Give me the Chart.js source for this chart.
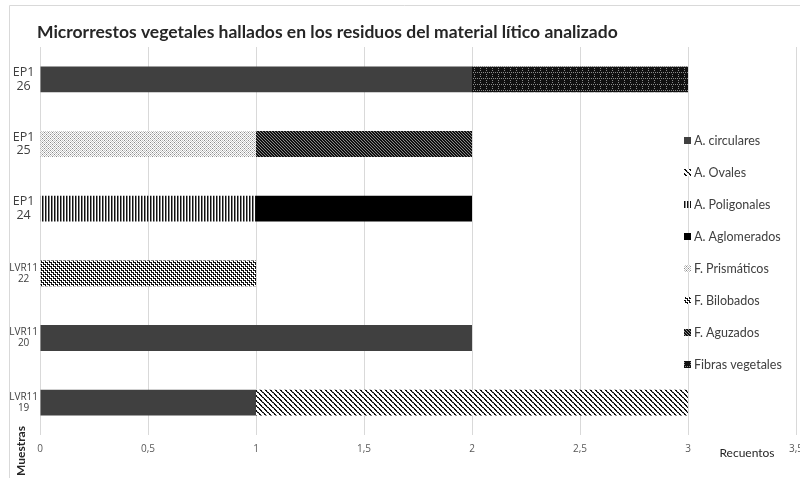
<!DOCTYPE html>
<html>
<head>
<meta charset="utf-8">
<script src="https://cdn.jsdelivr.net/npm/chart.js@4"></script>
<style>
  html, body { margin: 0; padding: 0; background: #fff; }
  #wrap { width: 800px; height: 478px; position: relative; }
</style>
</head>
<body>
<div id="wrap"><canvas id="chart"></canvas></div>
<script>
// Samples, top to bottom
const samples = [["EP1", "26"], ["EP1", "25"], ["EP1", "24"], ["LVR11", "22"], ["LVR11", "20"], ["LVR11", "19"]];

// Counts per type
const aCirculares   = [2, 0, 0, 0, 2, 1];
const aOvales       = [0, 0, 0, 0, 0, 2];
const aPoligonales  = [0, 0, 1, 0, 0, 0];
const aAglomerados  = [0, 0, 1, 0, 0, 0];
const fPrismaticos  = [0, 1, 0, 0, 0, 0];
const fBilobados    = [0, 0, 0, 1, 0, 0];
const fAguzados     = [0, 1, 0, 0, 0, 0];
const fibras        = [1, 0, 0, 0, 0, 0];

const seriesNames = ["A. circulares", "A. Ovales", "A. Poligonales", "A. Aglomerados",
                     "F. Prismáticos", "F. Bilobados", "F. Aguzados", "Fibras vegetales"];
const xTickLabels = ["0", "0,5", "1", "1,5", "2", "2,5", "3", "3,5"];

const titleText = "Microrrestos vegetales hallados en los residuos del material lítico analizado";

// small bitmap patterns: 0 white, 1 black, 2 mid gray, 3 light gray
const shade = { "0": "#ffffff", "1": "#111111", "2": "#8a8a8a", "3": "#c4c4c4" };
function bitmapPattern(rows) {
  const c = document.createElement("canvas");
  c.width = rows[0].length;
  c.height = rows.length;
  const g = c.getContext("2d");
  rows.forEach((r, y) => {
    for (let x = 0; x < r.length; x++) {
      g.fillStyle = shade[r[x]];
      g.fillRect(x, y, 1, 1);
    }
  });
  return g.createPattern(c, "repeat");
}

const fills = [
  "#404040",
  bitmapPattern(["11000", "01200", "00110", "00021", "10001"]),
  bitmapPattern(["120"]),
  "#000000",
  bitmapPattern(["2030", "0303", "3020", "0303"]),
  bitmapPattern(["1101", "0100", "0111", "0001"]),
  bitmapPattern(["112", "211", "121"]),
  bitmapPattern(["121212", "111111", "211111", "111111", "211111", "111111"])
];

const values = [aCirculares, aOvales, aPoligonales, aAglomerados, fPrismaticos, fBilobados, fAguzados, fibras];

const datasets = values.map((data, i) => ({
  label: seriesNames[i],
  data,
  backgroundColor: fills[i],
  borderWidth: 0,
  barPercentage: 0.4,
  categoryPercentage: 1
}));

// title, axis titles and legend drawn over the plot like the original
const overlay = {
  id: "overlay",
  beforeDraw(chart) {
    const ctx = chart.ctx;
    ctx.save();
    ctx.strokeStyle = "#d9d9d9";
    ctx.lineWidth = 1;
    ctx.beginPath();
    ctx.moveTo(9.5, 480);
    ctx.lineTo(9.5, 5.5);
    ctx.lineTo(800, 5.5);
    ctx.stroke();
    ctx.restore();
  },
  afterDraw(chart) {
    const ctx = chart.ctx;
    ctx.save();
    ctx.textBaseline = "middle";

    ctx.font = "bold 17.5px Lato";
    ctx.fillStyle = "#262626";
    ctx.fillText(titleText, 37, 32);

    ctx.font = "12px Lato";
    ctx.fillStyle = "#262626";
    ctx.textAlign = "center";
    ctx.fillText("Recuentos", 747, 453);

    ctx.save();
    ctx.translate(21, 451);
    ctx.rotate(-Math.PI / 2);
    ctx.font = "bold 12px Lato";
    ctx.fillText("Muestras", 0, 0);
    ctx.restore();

    ctx.textAlign = "left";
    ctx.font = "12.5px Lato";
    chart.data.datasets.forEach((ds, i) => {
      const y = 141 + i * 32;
      ctx.fillStyle = ds.backgroundColor;
      ctx.fillRect(684, y - 4, 7, 7);
      ctx.fillStyle = "#404040";
      ctx.fillText(ds.label, 694, y);
    });
    ctx.restore();
  }
};

new Chart(document.getElementById("chart"), {
  type: "bar",
  data: { labels: samples, datasets },
  options: {
    indexAxis: "y",
    responsive: true,
    maintainAspectRatio: false,
    animation: false,
    layout: { padding: { top: 47, right: 4, left: 0, bottom: 0 } },
    scales: {
      x: {
        stacked: true,
        min: 0,
        max: 3.5,
        grid: { color: "#d9d9d9", drawTicks: false },
        border: { display: false },
        ticks: {
          stepSize: 0.5,
          padding: 8,
          color: "#595959",
          font: { family: "Open Sans", size: 10 },
          callback: (v, i) => xTickLabels[i]
        },
        afterFit: s => { s.height = 43; s.paddingLeft = 0; s.paddingRight = 0; }
      },
      y: {
        stacked: true,
        grid: { display: false },
        border: { display: false },
        ticks: {
          crossAlign: "center",
          padding: -6,
          color: "#404040",
          font: ctx => ({ family: "Open Sans", size: ctx.index >= 3 ? 10 : 12.5, lineHeight: 1.1 })
        },
        afterFit: s => { s.width = 40; }
      }
    },
    plugins: {
      legend: { display: false },
      title: { display: false },
      tooltip: { enabled: false }
    }
  },
  plugins: [overlay]
});
</script>
</body>
</html>
